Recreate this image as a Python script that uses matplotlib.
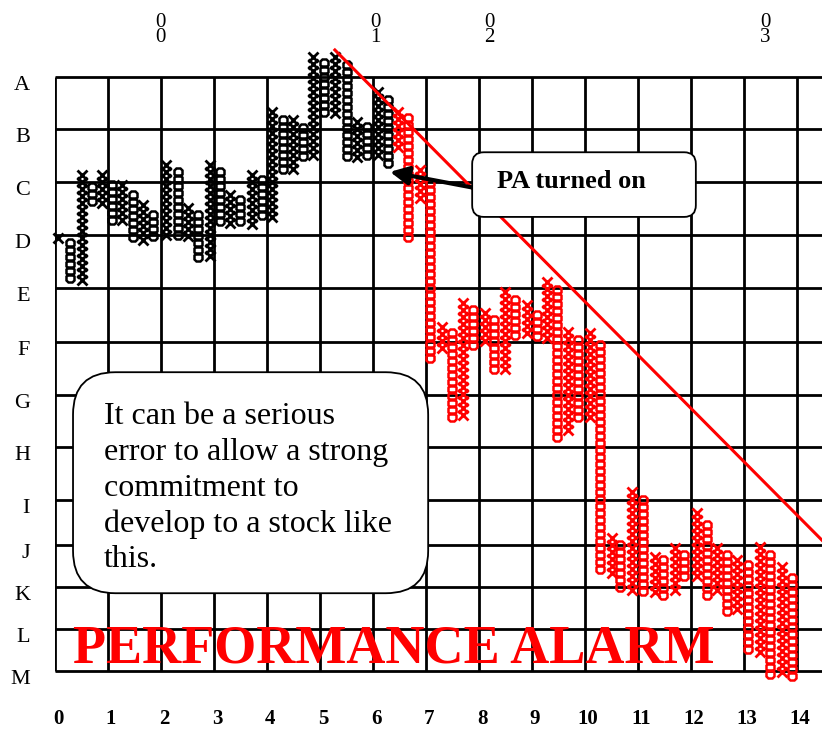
import numpy as np
import matplotlib
matplotlib.use('Agg')
import matplotlib.pyplot as plt
from matplotlib.patches import FancyBboxPatch
from matplotlib.transforms import ScaledTranslation

plt.rcParams['font.family'] = ['Liberation Serif', 'DejaVu Serif']

# grid rows (A..M) and columns (0..14), in grid units
row_labels = list('ABCDEFGHIJKLM')
row_pos = [0, 0.98, 1.98, 2.98, 3.98, 5.0, 6.0, 6.98, 7.98, 8.83, 9.62, 10.42, 11.21]
col_labels = [str(i) for i in range(15)]
col_pos = list(range(15))
year_labels = ['0\n0', '0\n1', '0\n2', '0\n3']
year_pos = [1.98, 6.04, 8.2, 13.4]

# point & figure columns: x position, kind, top box, bottom box
pf_x = [0.06, 0.28, 0.51, 0.70, 0.89, 1.08, 1.26, 1.47, 1.66, 1.85,
        2.09, 2.32, 2.51, 2.70, 2.92, 3.11, 3.30, 3.49, 3.72, 3.91,
        4.09, 4.30, 4.49, 4.68, 4.87, 5.08, 5.28, 5.51, 5.70, 5.89,
        6.09, 6.28,
        6.47, 6.66, 6.89, 7.08, 7.30, 7.49, 7.70, 7.89, 8.11, 8.28,
        8.49, 8.68, 8.91, 9.09, 9.28, 9.47, 9.68, 9.87, 10.09, 10.28,
        10.51, 10.66, 10.89, 11.09, 11.32, 11.47, 11.70, 11.87, 12.11, 12.30,
        12.49, 12.68, 12.87, 13.08, 13.30, 13.49, 13.72, 13.91]
pf_kind = "XOXOXOXOXOXOXOXOXOXOXOXOXOXOXOXO" + "XOXOXOXOXOXOXOXOXOXOXOXOXOXOXOXOXOXOXO"
pf_top = [3.04, 3.13, 1.85, 2.08, 1.85, 2.04, 2.04, 2.23, 2.42, 2.60,
          1.66, 1.79, 2.47, 2.60, 1.66, 1.79, 2.23, 2.32, 1.85, 1.94,
          0.66, 0.81, 0.81, 0.96, -0.38, -0.26, -0.38, -0.23, 0.85, 0.94,
          0.28, 0.43,
          0.66, 0.77, 1.75, 2.00, 4.72, 4.83, 4.26, 4.40, 4.45, 4.58,
          4.06, 4.21, 4.30, 4.49, 3.87, 4.02, 4.81, 4.96, 4.83, 5.06,
          8.70, 8.83, 7.83, 7.98, 9.06, 9.11, 8.89, 9.02, 8.23, 8.45,
          8.89, 9.02, 9.11, 9.21, 8.87, 9.02, 9.25, 9.45]
pf_bot = [3.04, 3.89, 3.83, 2.45, 2.45, 2.74, 2.74, 3.08, 3.08, 3.08,
          3.08, 3.08, 3.08, 3.45, 3.45, 2.79, 2.79, 2.79, 2.79, 2.66,
          2.66, 1.75, 1.75, 1.57, 1.57, 0.75, 0.75, 1.51, 1.51, 1.51,
          1.51, 1.66,
          1.38, 3.13, 2.32, 5.38, 5.15, 6.53, 6.42, 5.06, 5.06, 5.57,
          5.57, 4.87, 4.87, 4.96, 4.96, 6.79, 6.66, 6.47, 6.47, 9.36,
          9.36, 9.74, 9.74, 9.77, 9.77, 9.77, 9.77, 9.49, 9.49, 9.77,
          9.77, 10.11, 10.11, 10.91, 10.91, 11.32, 11.32, 11.32]
pa_on_index = 32   # columns from here on are drawn in red
box = 0.132

# trend line end points
trend_x = [5.28, 14.47]
trend_y = [-0.51, 8.74]

fig = plt.figure(figsize=(8.22, 7.32), dpi=100)
ax = fig.add_axes([55 / 822, 40 / 732, 767 / 822, 692 / 732])
ax.set_xlim(0, 14.47)
ax.set_ylim((692 - 77) / 53, -77 / 53)
for s in ax.spines.values():
    s.set_visible(False)

# grid
ax.hlines(row_pos, 0, 14.47, color='black', lw=2, zorder=1)
ax.vlines(col_pos, 0, row_pos[-1], color='black', lw=2, zorder=1)

# ticks
ax.set_yticks(row_pos)
ax.set_yticklabels(row_labels, fontsize=16)
ax.set_xticks(col_pos)
ax.set_xticklabels(col_labels, fontsize=15, fontweight='bold')
ax.tick_params(axis='both', length=0)
ax.tick_params(axis='y', pad=18)
ax.tick_params(axis='x', pad=12)
shift_y = ScaledTranslation(0, -0.06, fig.dpi_scale_trans)
for lab in ax.get_yticklabels():
    lab.set_transform(lab.get_transform() + shift_y)
shift_x = ScaledTranslation(0.03, 0, fig.dpi_scale_trans)
for lab in ax.get_xticklabels():
    lab.set_transform(lab.get_transform() + shift_x)

for lab, xp in zip(year_labels, year_pos):
    ax.text(xp, -0.88, lab, fontsize=15, ha='center', va='center',
            linespacing=0.72, clip_on=False)

# X and O boxes
for i in range(len(pf_x)):
    col = 'black' if i < pa_on_index else 'red'
    ys = np.arange(pf_top[i], pf_bot[i] + 0.01, box)
    xs = np.full(len(ys), pf_x[i])
    if pf_kind[i] == 'X':
        ax.plot(xs, ys, ls='none', marker='x', ms=7.5, mew=2, color=col,
                zorder=3, clip_on=False)
    else:
        ax.plot(xs, ys, ls='none', marker='8', ms=7, mew=1.8, mfc='none',
                mec=col, zorder=3, clip_on=False)

# trend line
ax.plot(trend_x, trend_y, color='red', lw=2.2, zorder=4, clip_on=False)

# callout
ax.annotate('', xy=(6.32, 1.79), xytext=(7.9, 2.09),
            arrowprops=dict(arrowstyle='-|>', lw=3, color='black',
                            mutation_scale=28, shrinkA=0, shrinkB=0),
            zorder=5)
ax.add_patch(FancyBboxPatch((7.87, 1.42), 12.09 - 7.87, 2.64 - 1.42,
                            boxstyle='round,pad=0,rounding_size=0.22',
                            fc='white', ec='black', lw=1.3, zorder=6))
ax.text(8.34, 1.98, 'PA turned on', fontsize=19, fontweight='bold',
        ha='left', va='center', zorder=7)

# comment box
ax.add_patch(FancyBboxPatch((0.34, 5.57), 7.04 - 0.34, 9.74 - 5.57,
                            boxstyle='round,pad=0,rounding_size=0.8',
                            fc='white', ec='black', lw=1.3, zorder=6))
ax.text(0.92, 6.14, 'It can be a serious\nerror to allow a strong\ncommitment to\n'
        'develop to a stock like\nthis.', fontsize=23, ha='left', va='top',
        linespacing=1.3, zorder=7)

ax.text(0.34, 10.81, 'PERFORMANCE ALARM', fontsize=39, fontweight='bold',
        color='red', ha='left', va='center', zorder=5)

fig.savefig('out.png', dpi=100)
